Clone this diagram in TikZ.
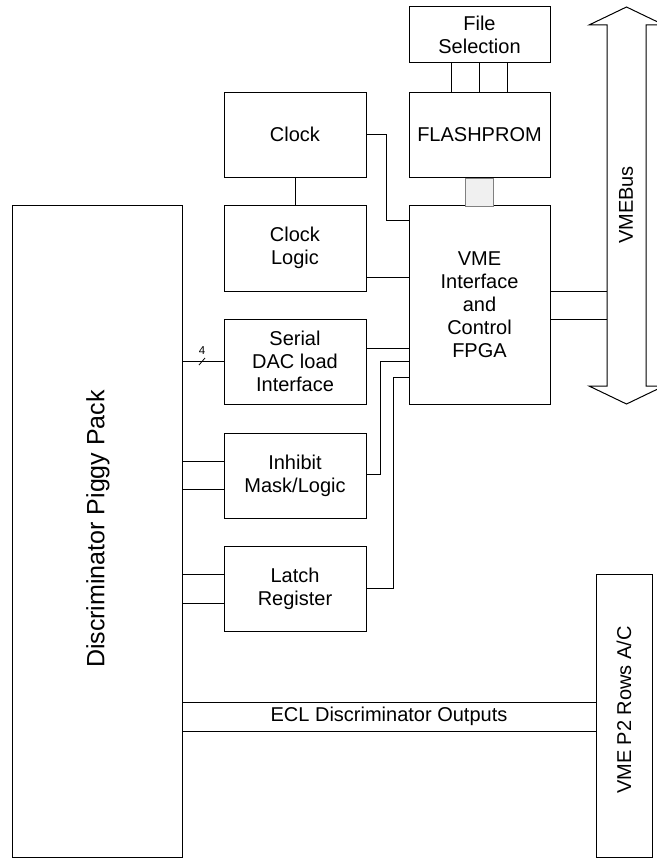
\documentclass[tikz,border=0pt]{standalone}
\usepackage{fontspec}
\setmainfont{Liberation Sans}
\begin{document}
\begin{tikzpicture}[x=1pt,y=-1pt,
  line width=1pt,
  blk/.style={draw, line width=1pt, minimum width=142pt, minimum height=85pt, align=center, inner sep=0pt, font=\fontsize{20}{23}\selectfont},
  conn/.style={draw, line width=1pt},
  lbl/.style={inner sep=0pt, font=\fontsize{20}{23}\selectfont}]
\fill[white] (0,0) rectangle (656,859);
\useasboundingbox (0,0) rectangle (656,859);

% blocks
\node[blk, minimum width=141pt, minimum height=56pt] (filesel) at (479.5,35) {File\\Selection};
\node[blk, minimum width=141pt] (flash) at (479.5,134.5) {FLASHPROM};
\node[blk] (clock) at (295,134.5) {Clock};
\node[blk, minimum height=86pt] (clklogic) at (295,248) {Clock\\Logic};
\node[blk, minimum width=141pt, minimum height=199pt] (fpga) at (479.5,304.5) {VME\\Interface\\and\\Control\\FPGA};
\node[blk] (serial) at (295,361.5) {Serial\\DAC load\\Interface};
\node[blk] (inhibit) at (295,475.5) {Inhibit\\Mask/Logic};
\node[blk] (latch) at (295,588.5) {Latch\\Register};
\node[blk, minimum width=170pt, minimum height=652pt] (piggy) at (97,531) {};
\node[lbl, rotate=90, font=\fontsize{25}{28}\selectfont] (piggytxt) at (98,529) {Discriminator Piggy Pack};
\node[blk, minimum width=56pt, minimum height=283pt] (vmep2) at (624,715.5) {};
\node[lbl, rotate=90] (vmep2txt) at (624,710) {VME P2 Rows A/C};

% gray link FLASHPROM - FPGA
\node[draw=gray, fill=gray!12, line width=1pt, minimum width=28pt, minimum height=28pt, inner sep=0pt, anchor=north] (bar) at (flash.south) {};

% File selection to FLASHPROM
\foreach \dx in {-28,0,28}
  \draw[conn] ([xshift=\dx pt]filesel.south) -- ([xshift=\dx pt]flash.north);

% Clock to Clock Logic
\draw[conn] (clock.south) -- (clklogic.north);

% to FPGA
\draw[conn] (clock.east) -| (386,220) -- (fpga.west |- 0,220);
\draw[conn] (clklogic.east |- 0,277) -- (fpga.west |- 0,277);
\draw[conn] (serial.east |- 0,348) -- (fpga.west |- 0,348);
\draw[conn] (inhibit.east |- 0,474) -| (380,361) -- (fpga.west |- 0,361);
\draw[conn] (latch.east |- 0,588) -| (393,377) -- (fpga.west |- 0,377);

% Piggy pack to blocks
\draw[conn] (piggy.east |- 0,361) -- (serial.west |- 0,361);
\draw[line width=0.8pt] (199,365) -- (205,358);
\node[inner sep=0pt, font=\fontsize{11.5}{12}\selectfont] (four) at (202,351) {4};
\draw[conn] (piggy.east |- 0,461) -- (inhibit.west |- 0,461);
\draw[conn] (piggy.east |- 0,489) -- (inhibit.west |- 0,489);
\draw[conn] (piggy.east |- 0,574) -- (latch.west |- 0,574);
\draw[conn] (piggy.east |- 0,603) -- (latch.west |- 0,603);

% ECL outputs
\draw[conn] (piggy.east |- 0,702) -- (vmep2.west |- 0,702);
\draw[conn] (piggy.east |- 0,731) -- (vmep2.west |- 0,731);
\node[lbl] (ecl) at (389,716.5) {ECL Discriminator Outputs};

% VMEBus double arrow
\draw[line width=1pt, line join=miter]
  (626.5,7) coordinate (vtop) -- (664,25) -- (646,25) -- (646,386) -- (664,386)
  -- (626.5,404) coordinate (vbot) -- (589,386) -- (607,386) -- (607,25) -- (589,25) -- cycle;
\node[lbl, rotate=90] (vmebus) at (626,205) {VMEBus};

% FPGA to VMEBus
\draw[conn] (fpga.east |- 0,291) -- (607,291);
\draw[conn] (fpga.east |- 0,319) -- (607,319);
\end{tikzpicture}
\end{document}
